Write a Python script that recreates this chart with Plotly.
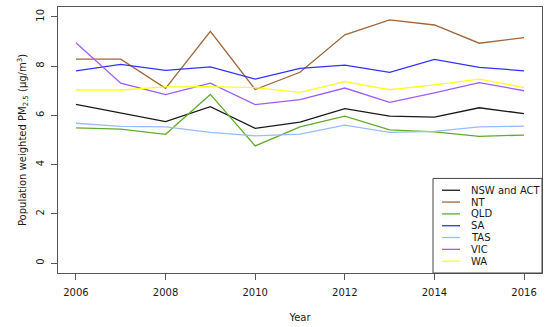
import plotly.graph_objects as go

years = [2006, 2007, 2008, 2009, 2010, 2011, 2012, 2013, 2014, 2015, 2016]

nsw_act = [6.45, 6.10, 5.75, 6.35, 5.47, 5.73, 6.27, 5.97, 5.93, 6.31, 6.07]
nt      = [8.28, 8.28, 7.10, 9.41, 7.05, 7.75, 9.27, 9.88, 9.67, 8.93, 9.16]
qld     = [5.49, 5.44, 5.23, 6.85, 4.76, 5.53, 5.97, 5.41, 5.33, 5.15, 5.20]
sa      = [7.81, 8.07, 7.83, 7.97, 7.47, 7.91, 8.04, 7.75, 8.27, 7.95, 7.81]
tas     = [5.68, 5.55, 5.53, 5.31, 5.17, 5.24, 5.60, 5.31, 5.35, 5.53, 5.56]
vic     = [8.95, 7.31, 6.84, 7.31, 6.44, 6.64, 7.11, 6.53, 6.91, 7.33, 7.00]
wa      = [7.03, 7.03, 7.16, 7.17, 7.13, 6.93, 7.37, 7.04, 7.24, 7.47, 7.13]

series_names = ["NSW and ACT", "NT", "QLD", "SA", "TAS", "VIC", "WA"]
series_values = [nsw_act, nt, qld, sa, tas, vic, wa]
series_colors = ["#1a1a1a", "#a0673a", "#62ac2c", "#3333ff", "#99bbff", "#a05cff", "#ffff22"]

x_ticks = [2006, 2008, 2010, 2012, 2014, 2016]
y_ticks = [0, 2, 4, 6, 8, 10]

FONT = "DejaVu Sans"
TXT = "#1a1a1a"

fig = go.Figure()
for name, vals, col in zip(series_names, series_values, series_colors):
    fig.add_trace(go.Scatter(x=years, y=vals, mode="lines", name=name,
                             line=dict(color=col, width=1.3), showlegend=False,
                             hoverinfo="skip"))

# manual legend (R-style compact box)
L, R, T, B = 58, 542, 6, 276
W, H = R - L, B - T
def px(x):
    return (x - L) / W
def py(y):
    return (B - y) / H

fig.add_shape(type="rect", xref="paper", yref="paper",
              x0=px(433), x1=1.0, y0=0.0, y1=py(180),
              line=dict(color="#444", width=1), fillcolor="white", layer="above")
for i, (name, col) in enumerate(zip(series_names, series_colors)):
    yy = py(192 + 12 * i)
    fig.add_shape(type="line", xref="paper", yref="paper",
                  x0=px(442), x1=px(460), y0=yy, y1=yy,
                  line=dict(color=col, width=1.3), layer="above")
    fig.add_annotation(xref="paper", yref="paper", x=px(469), y=yy,
                       text=name, showarrow=False, xanchor="left", yanchor="middle",
                       font=dict(family=FONT, size=10, color=TXT))

axis_common = dict(showline=True, mirror=True, linecolor="#555", linewidth=1,
                   ticks="outside", ticklen=6, tickcolor="#555", showgrid=False,
                   zeroline=False, tickfont=dict(family=FONT, size=10, color=TXT))

fig.update_layout(
    width=550, height=327,
    margin=dict(l=L, r=550 - R, t=T, b=327 - B),
    paper_bgcolor="white", plot_bgcolor="white",
    font=dict(family=FONT, size=10, color=TXT),
    xaxis=dict(range=[2005.6, 2016.4], tickvals=x_ticks, ticklabelstandoff=4,
               title=dict(text="Year", font=dict(family=FONT, size=10, color=TXT), standoff=16),
               **axis_common),
    yaxis=dict(range=[-0.4, 10.4], tickvals=y_ticks, tickangle=-90, ticklabelstandoff=3,
               title=dict(text="Population weighted PM<sub>2.5</sub> (μg/m<sup>3</sup>)",
                          font=dict(family=FONT, size=10, color=TXT), standoff=6),
               **axis_common),
    showlegend=False,
)

fig.write_html("out.html", config={"displayModeBar": False, "staticPlot": True},
               post_script="document.body.style.margin='0';document.body.style.overflow='hidden';")
